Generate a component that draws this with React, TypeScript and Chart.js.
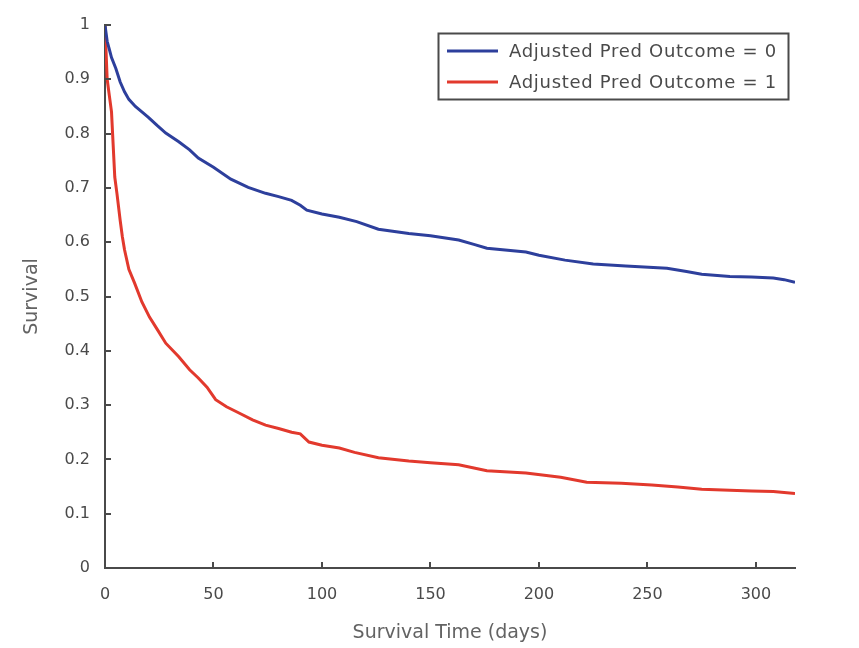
import React, { useEffect, useRef } from "react";
import { Chart, registerables } from "chart.js";

Chart.register(...registerables);

// Survival time (days) and survival probability
const outcome0Times = [0, 0.5, 1, 2, 3, 5, 7, 9, 11, 14, 17, 20, 24, 28, 34, 39, 43, 50, 58, 66, 74, 80, 86, 90, 93, 100, 108, 116, 126, 140, 150, 163, 170, 176, 194, 200, 212, 225, 240, 259, 268, 275, 288, 298, 308, 313, 318];
const outcome0Survival = [1.0, 0.985, 0.97, 0.955, 0.94, 0.92, 0.895, 0.877, 0.863, 0.85, 0.84, 0.83, 0.815, 0.801, 0.785, 0.77, 0.755, 0.738, 0.716, 0.701, 0.69, 0.684, 0.677, 0.668, 0.659, 0.652, 0.646, 0.638, 0.624, 0.616, 0.612, 0.604, 0.596, 0.589, 0.582, 0.576, 0.567, 0.56, 0.556, 0.552, 0.546, 0.541, 0.537, 0.536, 0.534, 0.531, 0.526];

const outcome1Times = [0, 0.5, 1, 2, 3, 3.5, 4.5, 5.5, 7, 8, 9, 11, 13.6, 17, 20.5, 24, 28, 34, 39, 43, 47, 51, 56, 62, 68, 74, 80, 86, 90, 94, 100, 108, 115, 126, 140, 150, 163, 176, 194, 210, 222, 238, 252, 264, 275, 288, 298, 308, 318];
const outcome1Survival = [1.0, 0.95, 0.9, 0.87, 0.84, 0.8, 0.72, 0.69, 0.64, 0.61, 0.586, 0.55, 0.525, 0.49, 0.462, 0.44, 0.414, 0.389, 0.365, 0.35, 0.333, 0.31, 0.297, 0.285, 0.273, 0.263, 0.257, 0.25, 0.247, 0.232, 0.226, 0.221, 0.213, 0.203, 0.197, 0.194, 0.19, 0.179, 0.175, 0.167, 0.158, 0.156, 0.153, 0.149, 0.145, 0.143, 0.142, 0.141, 0.137];

const seriesLabels = ["Adjusted Pred Outcome = 0", "Adjusted Pred Outcome = 1"];
const xTickValues = [0, 50, 100, 150, 200, 250, 300];
const yTickValues = [0, 0.1, 0.2, 0.3, 0.4, 0.5, 0.6, 0.7, 0.8, 0.9, 1];
const xMax = 318;

const BLUE = "#2d3f9c";
const RED = "#e2392d";
const AXIS = "#4a4a4a";
const TEXT = "#4a4a4a";
const FONT = "'DejaVu Sans', sans-serif";

const inwardTicks = {
  id: "inwardTicks",
  afterDatasetsDraw(chart: any) {
    const ctx = chart.ctx;
    const xs = chart.scales.x;
    const ys = chart.scales.y;
    const { left, bottom } = chart.chartArea;
    ctx.save();
    ctx.strokeStyle = AXIS;
    ctx.lineWidth = 2;
    ctx.beginPath();
    xs.ticks.forEach((t: any) => {
      const px = Math.round(xs.getPixelForValue(t.value));
      ctx.moveTo(px, bottom);
      ctx.lineTo(px, bottom - 6);
    });
    ys.ticks.forEach((t: any) => {
      const py = Math.round(ys.getPixelForValue(t.value));
      ctx.moveTo(left, py);
      ctx.lineTo(left + 6, py);
    });
    ctx.stroke();
    ctx.restore();
  },
};

const boxLegend = {
  id: "boxLegend",
  afterDraw(chart: any) {
    const ctx = chart.ctx;
    ctx.save();
    ctx.strokeStyle = AXIS;
    ctx.lineWidth = 2;
    ctx.strokeRect(438.5, 33.5, 350, 66);
    chart.data.datasets.forEach((ds: any, i: number) => {
      const y = 51 + i * 31;
      ctx.strokeStyle = ds.borderColor;
      ctx.lineWidth = 3;
      ctx.beginPath();
      ctx.moveTo(447, y);
      ctx.lineTo(498, y);
      ctx.stroke();
      ctx.fillStyle = TEXT;
      ctx.font = `18px ${FONT}`;
      try {
        (ctx as any).letterSpacing = "0.7px";
      } catch (e) {}
      ctx.textBaseline = "middle";
      ctx.textAlign = "left";
      ctx.fillText(ds.label, 509, y + 1);
    });
    ctx.restore();
  },
};

export default function App() {
  const ref = useRef<HTMLCanvasElement | null>(null);

  useEffect(() => {
    if (!ref.current) return;
    const chart = new Chart(ref.current, {
      type: "line",
      data: {
        datasets: [
          {
            label: seriesLabels[0],
            data: outcome0Times.map((t, i) => ({ x: t, y: outcome0Survival[i] })),
            borderColor: BLUE,
            backgroundColor: BLUE,
            borderWidth: 3,
            pointRadius: 0,
            tension: 0,
          },
          {
            label: seriesLabels[1],
            data: outcome1Times.map((t, i) => ({ x: t, y: outcome1Survival[i] })),
            borderColor: RED,
            backgroundColor: RED,
            borderWidth: 3,
            pointRadius: 0,
            tension: 0,
          },
        ],
      },
      options: {
        responsive: false,
        animation: false,
        layout: { padding: { left: 0, top: 25, right: 64, bottom: 0 } },
        plugins: {
          legend: { display: false },
          tooltip: { enabled: false },
        },
        scales: {
          x: {
            type: "linear",
            min: 0,
            max: xMax,
            grid: { display: false, drawTicks: false },
            border: { display: true, color: AXIS, width: 2 },
            ticks: {
              padding: 17,
              color: TEXT,
              font: { family: FONT, size: 16 },
              maxRotation: 0,
              autoSkip: false,
            },
            afterBuildTicks: (scale: any) => {
              scale.ticks = xTickValues.map((v) => ({ value: v }));
            },
            afterFit: (scale: any) => {
              scale.height = 80;
            },
            title: {
              display: true,
              text: "Survival Time (days)",
              color: "#636363",
              font: { family: FONT, size: 19 },
              padding: { top: 0, bottom: 3.6 },
            },
          },
          y: {
            type: "linear",
            min: 0,
            max: 1,
            grid: { display: false, drawTicks: false },
            border: { display: true, color: AXIS, width: 2 },
            ticks: {
              padding: 15,
              color: TEXT,
              font: { family: FONT, size: 16 },
              autoSkip: false,
              callback: (v: any) => String(Number(Number(v).toFixed(1))),
            },
            afterBuildTicks: (scale: any) => {
              scale.ticks = yTickValues.map((v) => ({ value: v }));
            },
            afterFit: (scale: any) => {
              scale.width = 105;
            },
            title: {
              display: true,
              text: "Survival",
              color: "#636363",
              font: { family: FONT, size: 19 },
              padding: { top: 20.6, bottom: 0 },
            },
          },
        },
      },
      plugins: [inwardTicks, boxLegend],
    });
    return () => chart.destroy();
  }, []);

  return (
    <div style={{ position: "fixed", left: 0, top: 0, width: 859, height: 648, background: "#fff" }}>
      <canvas ref={ref} width={859} height={648} style={{ display: "block" }} />
    </div>
  );
}
